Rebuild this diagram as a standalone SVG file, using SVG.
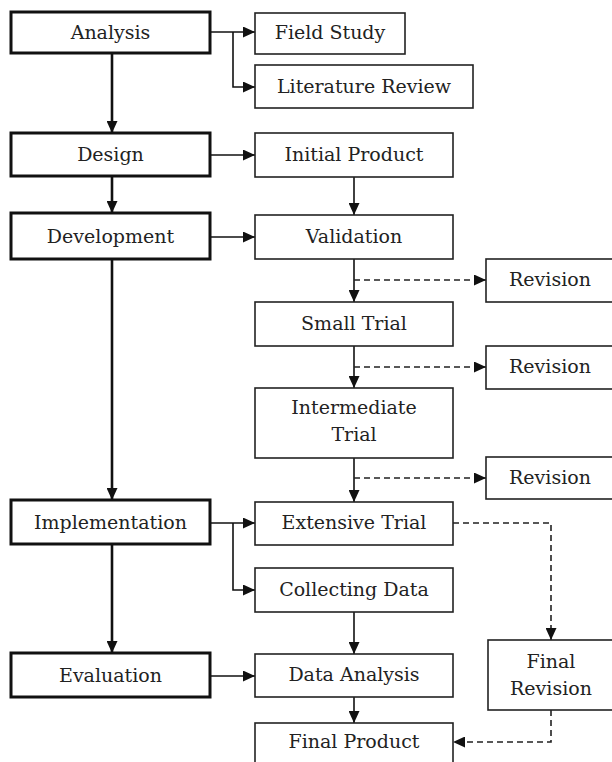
<svg xmlns="http://www.w3.org/2000/svg" width="612" height="762" viewBox="0 0 612 762">
<defs>
<marker id="ah" markerUnits="userSpaceOnUse" markerWidth="12" markerHeight="11" refX="12" refY="5.5" orient="auto">
<path d="M0,0 L12,5.5 L0,11 z" fill="#111"/>
</marker>
</defs>
<style>
.thick{fill:#fff;stroke:#111;stroke-width:3}
.thin{fill:#fff;stroke:#222;stroke-width:1.6}
text{font-family:"DejaVu Serif","Liberation Serif",serif;font-size:19px;fill:#222;text-anchor:middle}
.main{fill:none;stroke:#111;stroke-width:2.6}
.ln{fill:none;stroke:#111;stroke-width:1.6}
.dash{fill:none;stroke:#222;stroke-width:1.6;stroke-dasharray:6,4}
</style>
<rect width="612" height="762" fill="#fff"/>
<g id="connectors">
<path class="main" d="M112,53 V133" marker-end="url(#ah)"/>
<path class="main" d="M112,176 V213" marker-end="url(#ah)"/>
<path class="main" d="M112,259 V500" marker-end="url(#ah)"/>
<path class="main" d="M112,544 V653" marker-end="url(#ah)"/>
<path class="ln" d="M210,32 H255" marker-end="url(#ah)"/>
<path class="ln" d="M233,32 V87 H255" marker-end="url(#ah)"/>
<path class="ln" d="M210,155 H255" marker-end="url(#ah)"/>
<path class="ln" d="M210,237 H255" marker-end="url(#ah)"/>
<path class="ln" d="M210,523 H255" marker-end="url(#ah)"/>
<path class="ln" d="M233,523 V590 H255" marker-end="url(#ah)"/>
<path class="ln" d="M210,676 H255" marker-end="url(#ah)"/>
<path class="ln" d="M354,177 V215" marker-end="url(#ah)"/>
<path class="ln" d="M354,259 V302" marker-end="url(#ah)"/>
<path class="ln" d="M354,346 V388" marker-end="url(#ah)"/>
<path class="ln" d="M354,458 V502" marker-end="url(#ah)"/>
<path class="ln" d="M354,612 V654" marker-end="url(#ah)"/>
<path class="ln" d="M354,697 V723" marker-end="url(#ah)"/>
<path class="dash" d="M354,280 H486" marker-end="url(#ah)"/>
<path class="dash" d="M354,367 H486" marker-end="url(#ah)"/>
<path class="dash" d="M354,478 H486" marker-end="url(#ah)"/>
<path class="dash" d="M453,523 H551 V640" marker-end="url(#ah)"/>
<path class="dash" d="M551,710 V742 H453" marker-end="url(#ah)"/>
</g>
<g id="analysis"><rect class="thick" x="11" y="12" width="199" height="41"/><text x="110.5" y="39">Analysis</text></g>
<g id="design"><rect class="thick" x="11" y="133" width="199" height="43"/><text x="110.5" y="161">Design</text></g>
<g id="development"><rect class="thick" x="11" y="213" width="199" height="46"/><text x="110.5" y="243">Development</text></g>
<g id="implementation"><rect class="thick" x="11" y="500" width="199" height="44"/><text x="110.5" y="529">Implementation</text></g>
<g id="evaluation"><rect class="thick" x="11" y="653" width="199" height="44"/><text x="110.5" y="682">Evaluation</text></g>
<g id="field-study"><rect class="thin" x="255" y="13" width="150" height="41"/><text x="330" y="39">Field Study</text></g>
<g id="literature-review"><rect class="thin" x="255" y="65" width="218" height="43"/><text x="364" y="93">Literature Review</text></g>
<g id="initial-product"><rect class="thin" x="255" y="133" width="198" height="44"/><text x="354" y="161">Initial Product</text></g>
<g id="validation"><rect class="thin" x="255" y="215" width="198" height="44"/><text x="354" y="243">Validation</text></g>
<g id="small-trial"><rect class="thin" x="255" y="302" width="198" height="44"/><text x="354" y="330">Small Trial</text></g>
<g id="intermediate-trial"><rect class="thin" x="255" y="388" width="198" height="70"/><text x="354" y="414">Intermediate</text><text x="354" y="441">Trial</text></g>
<g id="extensive-trial"><rect class="thin" x="255" y="502" width="198" height="43"/><text x="354" y="529">Extensive Trial</text></g>
<g id="collecting-data"><rect class="thin" x="255" y="568" width="198" height="44"/><text x="354" y="596">Collecting Data</text></g>
<g id="data-analysis"><rect class="thin" x="255" y="654" width="198" height="43"/><text x="354" y="681">Data Analysis</text></g>
<g id="final-product"><rect class="thin" x="255" y="723" width="198" height="45"/><text x="354" y="748">Final Product</text></g>
<g id="revision-1"><rect class="thin" x="486" y="259" width="128" height="43"/><text x="550" y="286">Revision</text></g>
<g id="revision-2"><rect class="thin" x="486" y="346" width="128" height="43"/><text x="550" y="373">Revision</text></g>
<g id="revision-3"><rect class="thin" x="486" y="457" width="128" height="42"/><text x="550" y="484">Revision</text></g>
<g id="final-revision"><rect class="thin" x="488" y="640" width="126" height="70"/><text x="551" y="668">Final</text><text x="551" y="695">Revision</text></g>
</svg>
